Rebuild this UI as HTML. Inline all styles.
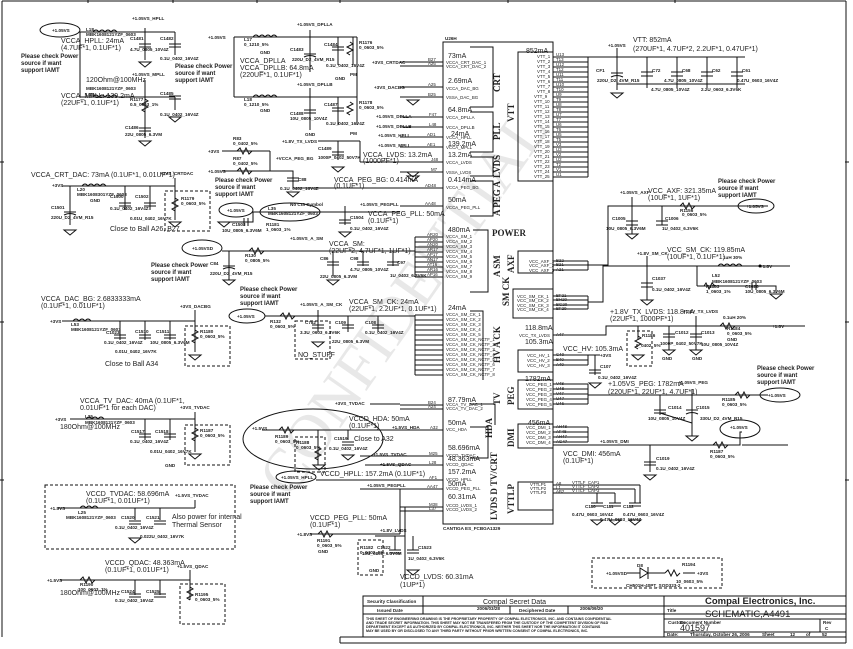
<!DOCTYPE html>
<html><head><meta charset="utf-8"><style>
html,body{margin:0;padding:0;background:#fff}
svg{display:block}
text{font-family:"Liberation Sans",sans-serif;fill:#222}
.m{font-size:7px}
.s{font-size:4.6px;font-weight:bold}
.p{font-size:4.4px}
.b{font-size:6px;font-weight:bold}
.g{font-family:"Liberation Serif",serif;font-weight:bold;font-size:9px}
line,polyline,path,rect,ellipse{stroke:#111;fill:none;stroke-width:1}
.d{stroke-dasharray:3,2}
</style></head><body>
<svg width="853" height="649" viewBox="0 0 853 649" xmlns="http://www.w3.org/2000/svg">
<!-- frame -->
<line x1="2" y1="1" x2="846" y2="1"/><line x1="2" y1="1" x2="2" y2="637"/><line x1="846" y1="1" x2="846" y2="643"/>
<line x1="88" y1="0" x2="88" y2="3"/><line x1="173" y1="0" x2="173" y2="3"/><line x1="257" y1="0" x2="257" y2="3"/><line x1="340" y1="0" x2="340" y2="3"/><line x1="508" y1="0" x2="508" y2="3"/><line x1="675" y1="0" x2="675" y2="3"/>
<line x1="0" y1="162" x2="4" y2="162"/><line x1="0" y1="322" x2="4" y2="322"/><line x1="0" y1="480" x2="4" y2="480"/><line x1="845" y1="162" x2="849" y2="162"/><line x1="845" y1="322" x2="849" y2="322"/><line x1="845" y1="480" x2="849" y2="480"/>
<!-- watermark -->
<text x="0" y="0" transform="translate(290,500) rotate(-55)" style="font-family:'Liberation Serif',serif;font-size:62px;fill:#e8e8e8">CONFIDENTIAL</text>

<!-- IC box -->
<rect x="443" y="42" width="110" height="482"/>
<text class="s" x="445" y="40">U26H</text>
<text class="s" x="443" y="530">CANTIGA ES_FCBGA1329</text>
<!-- group brackets -->
<polyline points="470,47 493,47 493,107 470,107"/>
<polyline points="470,112 493,112 493,152 470,152"/>
<polyline points="470,157 493,157 493,176 470,176"/>
<polyline points="470,181 493,181 493,216 470,216"/>
<polyline points="473,230 488,230 488,292 470,292"/>
<polyline points="470,311 483,311 483,380"/>
<polyline points="553,52 518,52 518,181 553,181"/>
<polyline points="553,251 518,251 518,273 553,273"/>
<polyline points="553,289 513,289 513,318 553,318"/>
<polyline points="553,350 518,350 518,372 553,372"/>
<polyline points="553,380 518,380 518,409 553,409"/>
<polyline points="553,424 518,424 518,448 553,448"/>
<polyline points="470,404 495,404 495,425"/>
<polyline points="470,427 488,427 488,458 470,458"/>
<polyline points="553,482 518,482 518,510 553,510"/>
<text class="g" transform="translate(500,92) rotate(-90)">CRT</text>
<text class="g" transform="translate(500,140) rotate(-90)">PLL</text>
<text class="g" transform="translate(500,178) rotate(-90)">LVDS</text>
<text class="g" transform="translate(500,216) rotate(-90)">A PEG A</text>
<text class="g" x="492" y="236">POWER</text>
<text class="g" transform="translate(500,277) rotate(-90)">A SM</text>
<text class="g" transform="translate(514,122) rotate(-90)">VTT</text>
<text class="g" transform="translate(514,273) rotate(-90)">AXF</text>
<text class="g" transform="translate(509,306) rotate(-90)">SM CK</text>
<text class="g" transform="translate(500,363) rotate(-90)">HV A CK</text>
<text class="g" transform="translate(514,405) rotate(-90)">PEG</text>
<text class="g" transform="translate(514,447) rotate(-90)">DMI</text>
<text class="g" transform="translate(500,405) rotate(-90)">TV</text>
<text class="g" transform="translate(492,438) rotate(-90)">HDA</text>
<text class="g" transform="translate(497,520) rotate(-90)">LVDS D TV/CRT</text>
<text class="g" transform="translate(514,514) rotate(-90)">VTTLP</text>
<!-- IC inner texts -->
<g class="m">
<text x="448" y="58">73mA</text><text x="448" y="83">2.69mA</text><text x="448" y="112">64.8mA</text><text x="451" y="136">24mA</text><text x="448" y="146">139.2mA</text><text x="448" y="157">13.2mA</text><text x="448" y="182">0.414mA</text><text x="448" y="202">50mA</text><text x="448" y="232">480mA</text><text x="448" y="310">24mA</text><text x="525" y="330">118.8mA</text><text x="525" y="344">105.3mA</text><text x="525" y="381">1782mA</text><text x="448" y="402">87.79mA</text><text x="448" y="425">50mA</text><text x="528" y="425">456mA</text><text x="448" y="450">58.696mA</text><text x="448" y="461">48.363mA</text><text x="448" y="474">157.2mA</text><text x="448" y="486">50mA</text><text x="448" y="499">60.31mA</text><text x="526" y="53">852mA</text>
</g>
<g class="p">
<text x="446" y="64">VCCA_CRT_DAC_1</text><text x="446" y="68">VCCA_CRT_DAC_2</text><text x="446" y="90">VCCA_DAC_BG</text><text x="446" y="99">VSSA_DAC_BG</text><text x="446" y="119">VCCA_DPLLA</text><text x="446" y="129">VCCA_DPLLB</text><text x="446" y="139">VCCA_HPLL</text><text x="446" y="149">VCCA_MPLL</text><text x="446" y="164">VCCA_LVDS</text><text x="446" y="174">VSSA_LVDS</text><text x="446" y="189">VCCA_PEG_BG</text><text x="446" y="209">VCCA_PEG_PLL</text>
<text x="446" y="238">VCCA_SM_1</text><text x="446" y="243">VCCA_SM_2</text><text x="446" y="248">VCCA_SM_3</text><text x="446" y="253">VCCA_SM_4</text><text x="446" y="258">VCCA_SM_5</text><text x="446" y="263">VCCA_SM_6</text><text x="446" y="268">VCCA_SM_7</text><text x="446" y="273">VCCA_SM_8</text><text x="446" y="278">VCCA_SM_9</text>
<text x="446" y="316">VCCA_SM_CK_1</text><text x="446" y="321">VCCA_SM_CK_2</text><text x="446" y="326">VCCA_SM_CK_3</text><text x="446" y="331">VCCA_SM_CK_4</text><text x="446" y="336">VCCA_SM_CK_5</text><text x="446" y="341">VCCA_SM_CK_NCTF_1</text><text x="446" y="346">VCCA_SM_CK_NCTF_2</text><text x="446" y="351">VCCA_SM_CK_NCTF_3</text><text x="446" y="356">VCCA_SM_CK_NCTF_4</text><text x="446" y="361">VCCA_SM_CK_NCTF_5</text><text x="446" y="366">VCCA_SM_CK_NCTF_6</text><text x="446" y="371">VCCA_SM_CK_NCTF_7</text><text x="446" y="376">VCCA_SM_CK_NCTF_8</text>
<text x="519" y="337">VCC_TX_LVDS</text>
<text x="446" y="406">VCCA_TV_DAC_1</text><text x="446" y="410">VCCA_TV_DAC_2</text><text x="446" y="431">VCC_HDA</text>
<text x="446" y="457">VCCD_TVDAC</text><text x="446" y="466">VCCD_QDAC</text><text x="446" y="481">VCCD_HPLL</text><text x="446" y="490">VCCD_PEG_PLL</text><text x="446" y="507">VCCD_LVDS_1</text><text x="446" y="511">VCCD_LVDS_2</text>
<text x="529" y="263">VCC_AXF_1</text><text x="529" y="267">VCC_AXF_2</text><text x="529" y="272">VCC_AXF_3</text>
<text x="517" y="298">VCC_SM_CK_1</text><text x="517" y="302">VCC_SM_CK_2</text><text x="517" y="307">VCC_SM_CK_3</text><text x="517" y="311">VCC_SM_CK_4</text>
<text x="527" y="357">VCC_HV_1</text><text x="527" y="362">VCC_HV_2</text><text x="527" y="367">VCC_HV_3</text>
<text x="526" y="386">VCC_PEG_1</text><text x="526" y="391">VCC_PEG_2</text><text x="526" y="396">VCC_PEG_3</text><text x="526" y="401">VCC_PEG_4</text><text x="526" y="406">VCC_PEG_5</text>
<text x="526" y="429">VCC_DMI_1</text><text x="526" y="434">VCC_DMI_2</text><text x="526" y="439">VCC_DMI_3</text><text x="526" y="444">VCC_DMI_4</text>
<text x="530" y="486">VTTLP1</text><text x="530" y="490">VTTLP2</text><text x="530" y="494">VTTLP3</text>
<text x="537" y="58">VTT_1</text><text x="537" y="63">VTT_2</text><text x="537" y="68">VTT_3</text><text x="537" y="73">VTT_4</text><text x="537" y="78">VTT_5</text><text x="537" y="83">VTT_6</text><text x="537" y="88">VTT_7</text><text x="537" y="93">VTT_8</text><text x="534" y="98">VTT_9</text><text x="534" y="103">VTT_10</text><text x="534" y="108">VTT_11</text><text x="534" y="113">VTT_12</text><text x="534" y="118">VTT_13</text><text x="534" y="123">VTT_14</text><text x="534" y="128">VTT_15</text><text x="534" y="133">VTT_16</text><text x="534" y="138">VTT_17</text><text x="534" y="143">VTT_18</text><text x="534" y="148">VTT_19</text><text x="534" y="153">VTT_20</text><text x="534" y="158">VTT_21</text><text x="534" y="163">VTT_22</text><text x="534" y="168">VTT_23</text><text x="534" y="173">VTT_24</text><text x="534" y="178">VTT_25</text>
</g>
<!-- VTT pins right -->
<g>
<line x1="553" y1="57" x2="588" y2="57"/><line x1="553" y1="62" x2="588" y2="62"/><line x1="553" y1="67" x2="588" y2="67"/><line x1="553" y1="72" x2="588" y2="72"/><line x1="553" y1="77" x2="588" y2="77"/><line x1="553" y1="82" x2="588" y2="82"/><line x1="553" y1="87" x2="588" y2="87"/><line x1="553" y1="92" x2="588" y2="92"/><line x1="553" y1="97" x2="588" y2="97"/><line x1="553" y1="102" x2="588" y2="102"/><line x1="553" y1="107" x2="588" y2="107"/><line x1="553" y1="112" x2="588" y2="112"/><line x1="553" y1="117" x2="588" y2="117"/><line x1="553" y1="122" x2="588" y2="122"/><line x1="553" y1="127" x2="588" y2="127"/><line x1="553" y1="132" x2="588" y2="132"/><line x1="553" y1="137" x2="588" y2="137"/><line x1="553" y1="142" x2="588" y2="142"/><line x1="553" y1="147" x2="588" y2="147"/><line x1="553" y1="152" x2="588" y2="152"/><line x1="553" y1="157" x2="588" y2="157"/><line x1="553" y1="162" x2="588" y2="162"/><line x1="553" y1="167" x2="588" y2="167"/><line x1="553" y1="172" x2="588" y2="172"/><line x1="553" y1="177" x2="588" y2="177"/>
<line x1="588" y1="57" x2="588" y2="177"/>
</g>
<!-- left pins -->
<g>
<line x1="400" y1="62" x2="443" y2="62"/><line x1="400" y1="66" x2="443" y2="66"/><line x1="400" y1="87" x2="443" y2="87"/><line x1="400" y1="97" x2="443" y2="97"/><line x1="400" y1="117" x2="443" y2="117"/><line x1="400" y1="127" x2="443" y2="127"/><line x1="400" y1="137" x2="443" y2="137"/><line x1="400" y1="147" x2="443" y2="147"/><line x1="400" y1="162" x2="443" y2="162"/><line x1="400" y1="172" x2="443" y2="172"/><line x1="400" y1="188" x2="443" y2="188"/><line x1="400" y1="206" x2="443" y2="206"/>
<line x1="415" y1="237" x2="443" y2="237"/><line x1="415" y1="242" x2="443" y2="242"/><line x1="415" y1="247" x2="443" y2="247"/><line x1="415" y1="252" x2="443" y2="252"/><line x1="415" y1="257" x2="443" y2="257"/><line x1="415" y1="262" x2="443" y2="262"/><line x1="415" y1="267" x2="443" y2="267"/><line x1="415" y1="272" x2="443" y2="272"/><line x1="415" y1="277" x2="443" y2="277"/><line x1="415" y1="237" x2="415" y2="277"/>
<line x1="415" y1="315" x2="443" y2="315"/><line x1="415" y1="320" x2="443" y2="320"/><line x1="415" y1="325" x2="443" y2="325"/><line x1="415" y1="330" x2="443" y2="330"/><line x1="415" y1="335" x2="443" y2="335"/><line x1="415" y1="340" x2="443" y2="340"/><line x1="415" y1="345" x2="443" y2="345"/><line x1="415" y1="350" x2="443" y2="350"/><line x1="415" y1="355" x2="443" y2="355"/><line x1="415" y1="360" x2="443" y2="360"/><line x1="415" y1="365" x2="443" y2="365"/><line x1="415" y1="370" x2="443" y2="370"/><line x1="415" y1="375" x2="443" y2="375"/><line x1="415" y1="315" x2="415" y2="375"/>
<line x1="400" y1="405" x2="443" y2="405"/><line x1="400" y1="409" x2="443" y2="409"/><line x1="360" y1="430" x2="443" y2="430"/><line x1="400" y1="456" x2="443" y2="456"/><line x1="400" y1="465" x2="443" y2="465"/><line x1="400" y1="480" x2="443" y2="480"/><line x1="400" y1="489" x2="443" y2="489"/><line x1="400" y1="507" x2="443" y2="507"/><line x1="400" y1="511" x2="443" y2="511"/>
</g>
<g class="p">
<text x="428" y="61">B27</text><text x="428" y="65">A26</text><text x="428" y="86">A25</text><text x="428" y="96">B25</text><text x="429" y="116">F47</text><text x="429" y="126">L48</text><text x="427" y="136">AD1</text><text x="427" y="146">AE1</text><text x="431" y="161">J48</text><text x="431" y="171">M7</text><text x="425" y="187">AD48</text><text x="425" y="205">AA48</text>
<text x="427" y="236">AR20</text><text x="427" y="241">AP20</text><text x="427" y="246">AN20</text><text x="427" y="251">AR17</text><text x="427" y="256">AP17</text><text x="427" y="261">AN17</text><text x="427" y="266">AT16</text><text x="427" y="271">AR16</text><text x="427" y="276">AP16</text>
<text x="428" y="404">B24</text><text x="428" y="408">A24</text><text x="430" y="429">A32</text><text x="429" y="455">M25</text><text x="429" y="464">L28</text><text x="429" y="479">AF1</text><text x="427" y="488">AA47</text><text x="429" y="506">M38</text><text x="429" y="510">L37</text>
<text x="556" y="56">U13</text><text x="556" y="61">T13</text><text x="556" y="66">U12</text><text x="556" y="71">T12</text><text x="556" y="76">U11</text><text x="556" y="81">T11</text><text x="556" y="86">U10</text><text x="556" y="91">T10</text><text x="556" y="96">U9</text><text x="556" y="101">T9</text><text x="556" y="106">U8</text><text x="556" y="111">T8</text><text x="556" y="116">U7</text><text x="556" y="121">T7</text><text x="556" y="126">U6</text><text x="556" y="131">T6</text><text x="556" y="136">U5</text><text x="556" y="141">T5</text><text x="556" y="146">V3</text><text x="556" y="151">U3</text><text x="556" y="156">V2</text><text x="556" y="161">U2</text><text x="556" y="166">T2</text><text x="556" y="171">V1</text><text x="556" y="176">U1</text>
<text x="556" y="262">B22</text><text x="556" y="266">B21</text><text x="556" y="271">A21</text><text x="556" y="297">BF21</text><text x="556" y="301">BH20</text><text x="556" y="306">BG20</text><text x="556" y="310">BF20</text><text x="556" y="336">A47</text><text x="556" y="356">C40</text><text x="556" y="361">B40</text><text x="556" y="366">A40</text>
<text x="556" y="385">V48</text><text x="556" y="390">U48</text><text x="556" y="395">V47</text><text x="556" y="400">U47</text><text x="556" y="405">U46</text><text x="556" y="428">AH48</text><text x="556" y="433">AF48</text><text x="556" y="438">AH47</text><text x="556" y="443">AG47</text><text x="556" y="485">A8</text><text x="556" y="489">L1</text><text x="556" y="493">AB2</text>
</g>
<!-- right side pin wires -->
<line x1="553" y1="261" x2="588" y2="261"/><line x1="553" y1="265" x2="588" y2="265"/><line x1="553" y1="270" x2="588" y2="270"/><line x1="588" y1="261" x2="588" y2="270"/>
<polyline points="588,265 608,265 608,206 660,206"/>
<line x1="553" y1="296" x2="588" y2="296"/><line x1="553" y1="300" x2="588" y2="300"/><line x1="553" y1="305" x2="588" y2="305"/><line x1="553" y1="309" x2="588" y2="309"/><line x1="588" y1="296" x2="588" y2="309"/>
<polyline points="588,302 603,302 603,266 790,266"/>
<polyline points="553,335 606,335 606,326 805,326"/>
<line x1="553" y1="355" x2="588" y2="355"/><line x1="553" y1="360" x2="588" y2="360"/><line x1="553" y1="365" x2="588" y2="365"/><line x1="588" y1="355" x2="588" y2="365"/><line x1="588" y1="355" x2="600" y2="355"/>
<line x1="553" y1="384" x2="588" y2="384"/><line x1="553" y1="389" x2="588" y2="389"/><line x1="553" y1="394" x2="588" y2="394"/><line x1="553" y1="399" x2="588" y2="399"/><line x1="553" y1="404" x2="588" y2="404"/><line x1="588" y1="384" x2="588" y2="404"/>
<line x1="588" y1="395" x2="768" y2="395"/>
<line x1="553" y1="427" x2="588" y2="427"/><line x1="553" y1="432" x2="588" y2="432"/><line x1="553" y1="437" x2="588" y2="437"/><line x1="553" y1="442" x2="588" y2="442"/><line x1="588" y1="427" x2="588" y2="442"/>
<polyline points="553,445 740,445 740,432 742,432"/><polyline points="788,445 742,445"/><polyline points="740,445 740,445"/>
<line x1="553" y1="485" x2="640" y2="485"/><line x1="553" y1="489" x2="635" y2="489"/><line x1="553" y1="493" x2="615" y2="493"/>
<g class="p"><text x="572" y="484">VTTLF_CAP1</text><text x="572" y="488">VTTLF_CAP2</text><text x="572" y="492">VTTLF_CAP3</text></g>

<!-- VTT caps -->
<line x1="588" y1="57" x2="745" y2="57"/><line x1="617" y1="48" x2="617" y2="57"/>
<line x1="617" y1="57" x2="617" y2="90"/><line x1="647" y1="57" x2="647" y2="88"/><line x1="677" y1="57" x2="677" y2="88"/><line x1="707" y1="57" x2="707" y2="88"/><line x1="737" y1="57" x2="737" y2="88"/>
<line x1="617" y1="84" x2="745" y2="84"/>
<path d="M611,73h12M611,77q6,-3 12,0M641,72h12M641,76h12M671,72h12M671,76h12M701,72h12M701,76h12M731,72h12M731,76h12" stroke-width="1.3"/>
<path d="M611,93h12l-6,5z"/>
<text class="m" x="633" y="42">VTT: 852mA</text><text class="m" x="633" y="51">(270UF*1, 4.7UF*2, 2.2UF*1, 0.47UF*1)</text>
<g class="s"><text x="608" y="47">+1.05VS</text><text x="596" y="72">CF1</text><text x="652" y="72">C72</text><text x="682" y="72">C68</text><text x="712" y="72">C62</text><text x="742" y="72">C61</text><text x="597" y="82">220U_D2_4VM_R15</text><text x="651" y="91">4.7U_0805_10V4Z</text><text x="664" y="82">4.7U_0805_10V4Z</text><text x="701" y="91">2.2U_0603_6.3V6K</text><text x="737" y="82">0.47U_0603_16V4Z</text></g>

<!-- AXF region -->
<text class="m" x="648" y="193">VCC_AXF: 321.35mA</text><text class="m" x="648" y="200">(10UF*1, 1UF*1)</text>
<text class="s" x="620" y="194">+1.05VS_AXF</text>
<line x1="632" y1="197" x2="632" y2="225"/><line x1="662" y1="206" x2="662" y2="225"/>
<line x1="608" y1="206" x2="768" y2="206"/>
<path d="M626,221h12M626,225h12M656,221h12M656,225h12M626,234h12l-6,5z" stroke-width="1.3"/>
<line x1="632" y1="225" x2="632" y2="234"/>
<g class="s"><text x="612" y="220">C1005</text><text x="606" y="230">10U_0805_6.3V6M</text><text x="665" y="220">C1006</text><text x="662" y="230">1U_0402_6.3V6K</text><text x="680" y="212">R1156</text><text x="682" y="216">0_0603_5%</text></g>
<path d="M680,206 l3,-3 3,6 3,-6 3,6 3,-3"/>
<text class="b" x="718" y="183">Please check Power</text><text class="b" x="718" y="190">source if want</text><text class="b" x="718" y="197">support IAMT</text>
<ellipse cx="756" cy="206" rx="18" ry="7" stroke-width="1.3"/><text class="s" x="746" y="208">+1.05VS</text>

<!-- SM CK right -->
<text class="m" x="667" y="252">VCC_SM_CK: 119.85mA</text><text class="m" x="667" y="259">(10UF*1, 0.1UF*1)</text>
<text class="s" x="637" y="255">+1.8V_SM_CK</text>
<line x1="647" y1="256" x2="647" y2="300"/><path d="M641,283h12M641,287h12M641,300h12l-6,5z" stroke-width="1.3"/>
<g class="s"><text x="652" y="280">C1037</text><text x="652" y="291">0.1U_0402_16V4Z</text><text x="723" y="259">1uH 30%</text><text x="712" y="277">L52</text><text x="712" y="283">MBK1608121YZF_0603</text><text x="706" y="288">R1183</text><text x="706" y="293">1_0603_1%</text><text x="745" y="288">C1026</text><text x="745" y="293">10U_0805_6.3V6M</text></g>
<path d="M718,266 q3,-4 6,0 q3,-4 6,0 q3,-4 6,0 q3,-4 6,0"/>
<line x1="697" y1="266" x2="697" y2="286"/><polyline points="697,286 740,286 740,286 776,286 776,293"/>
<path d="M704,286 l2,-3 3,6 3,-6 3,3M752,282v8M756,282v8"/>
<text class="s" x="760" y="268">+1.8V</text><circle cx="760" cy="266" r="1.5"/>
<path d="M770,294h12l-6,5z"/>

<!-- TX LVDS right -->
<text class="m" x="610" y="314">+1.8V_TX_LVDS: 118.8mA</text><text class="m" x="610" y="321">(22UF*1, 1000PF*1)</text>
<text class="s" x="683" y="313">+1.8V_TX_LVDS</text><text class="s" x="723" y="319">0.1uH 20%</text>
<line x1="696" y1="316" x2="696" y2="340"/><line x1="669" y1="326" x2="669" y2="340"/><line x1="638" y1="326" x2="638" y2="340"/>
<path d="M663,334h12M663,337h12M690,334h12M690,337h12M663,350h12l-6,5zM690,350h12l-6,5z" stroke-width="1.3"/>
<line x1="669" y1="337" x2="669" y2="350"/><line x1="696" y1="337" x2="696" y2="350"/>
<rect class="d" x="627" y="331" width="25" height="35"/>
<path d="M638,336 l3,2 -6,3 6,3 -6,3 3,2M632,355h12l-6,5z"/>
<path d="M720,326 l3,-3 3,6 3,-6 3,6 3,-3"/>
<g class="s"><text x="642" y="337">R1186</text><text x="636" y="347">0_0402_5%</text><text x="675" y="334">C1012</text><text x="701" y="334">C1013</text><text x="660" y="345">1000P_0402_50V7K</text><text x="701" y="346">10U_0805_10V4Z</text><text x="727" y="330">R1184</text><text x="727" y="335">0_0603_5%</text><text x="772" y="328">+1.8V</text><text x="662" y="360">GND</text><text x="692" y="360">GND</text><text x="727" y="341">GND</text></g>

<text class="m" x="563" y="351">VCC_HV: 105.3mA</text><text class="s" x="600" y="357">+3VS</text>
<line x1="595" y1="355" x2="595" y2="375"/><path d="M589,370h12M589,373h12M589,383h12l-6,5z" stroke-width="1.3"/>
<g class="s"><text x="600" y="368">C107</text><text x="598" y="379">0.1U_0402_16V4Z</text></g>

<text class="m" x="608" y="386">+1.05VS_PEG: 1782mA</text><text class="m" x="608" y="394">(220UF*1, 22UF*1, 4.7UF*1)</text><text class="s" x="678" y="384">+1.05VS_PEG</text>
<line x1="660" y1="395" x2="660" y2="415"/><line x1="692" y1="389" x2="692" y2="415"/>
<path d="M654,410h12M654,413h12M686,410h12M686,414q6,-3 12,0M686,436h12l-6,5z" stroke-width="1.3"/>
<line x1="660" y1="413" x2="692" y2="423"/><line x1="692" y1="414" x2="692" y2="436"/>
<g class="s"><text x="668" y="409">C1014</text><text x="696" y="409">C1015</text><text x="648" y="420">10U_0805_10V4Z</text><text x="700" y="420">330U_D2_4VM_R15</text><text x="722" y="401">R1185</text><text x="722" y="406">0_0603_5%</text></g>
<path d="M735,395 l3,-3 3,6 3,-6 3,6 3,-3"/>
<text class="b" x="757" y="370">Please check Power</text><text class="b" x="757" y="377">source if want</text><text class="b" x="757" y="384">support IAMT</text>
<ellipse cx="780" cy="395" rx="20" ry="7" stroke-width="1.3"/><text class="s" x="768" y="397">+1.05VS</text>
<ellipse cx="740" cy="429" rx="20" ry="9" stroke-width="1.3"/><text class="s" x="730" y="429">+1.05VS</text>
<polyline points="740,434 740,445 695,445"/>
<path d="M713,445 l3,-3 3,6 3,-6 3,6 3,-3"/>
<text class="s" x="600" y="443">+1.05VS_DMI</text><text class="s" x="710" y="453">R1187</text><text class="s" x="710" y="458">0_0603_5%</text>
<text class="m" x="563" y="456">VCC_DMI: 456mA</text><text class="m" x="563" y="463">(0.1UF*1)</text>
<line x1="650" y1="445" x2="650" y2="472"/><path d="M644,462h12M644,465h12M644,475h12l-6,5z" stroke-width="1.3"/>
<g class="s"><text x="656" y="460">C1019</text><text x="656" y="470">0.1U_0402_16V4Z</text></g>
<!-- VTTLF caps -->
<line x1="597" y1="493" x2="597" y2="503"/><line x1="615" y1="493" x2="615" y2="503"/><line x1="635" y1="489" x2="635" y2="503"/><line x1="640" y1="485" x2="640" y2="503"/>
<path d="M591,503h12M591,506h12M609,503h12M609,506h12M629,503h12M629,506h12M591,520h12l-6,5zM609,520h12l-6,5zM629,520h12l-6,5z" stroke-width="1.3"/>
<g class="s"><text x="585" y="508">C110</text><text x="603" y="508">C111</text><text x="623" y="508">C112</text><text x="572" y="516">0.47U_0603_16V4Z</text><text x="600" y="521">0.47U_0603_16V4Z</text><text x="623" y="516">0.47U_0603_16V4Z</text></g>

<!-- Top left HPLL / MPLL -->
<ellipse cx="60" cy="30" rx="20" ry="7" stroke-width="1.3"/><text class="s" x="52" y="32">+1.05VS</text>
<line x1="80" y1="32" x2="175" y2="32"/><line x1="80" y1="32" x2="80" y2="97"/><line x1="80" y1="97" x2="175" y2="97"/>
<path d="M93,32 q3,-4 6,0 q3,-4 6,0 q3,-4 6,0 q3,-4 6,0M93,97 q3,-4 6,0 q3,-4 6,0 q3,-4 6,0 q3,-4 6,0"/>
<line x1="145" y1="28" x2="145" y2="60"/><line x1="175" y1="32" x2="175" y2="55"/>
<path d="M139,44h12M139,47h12M169,44h12M169,47h12M139,62h12l-6,5z" stroke-width="1.3"/>
<line x1="145" y1="80" x2="145" y2="138"/><line x1="175" y1="97" x2="175" y2="110"/>
<path d="M169,96h12M169,99h12M169,117h12l-6,5zM139,128h12M139,131h12M139,141h12l-6,5z" stroke-width="1.3"/>
<path d="M145,99 l3,2 -6,3 6,3 -6,3 3,2"/>
<g class="s"><text x="132" y="20">+1.05VS_HPLL</text><text x="86" y="31">L18</text><text x="86" y="36">MBK1608121YZF_0603</text><text x="130" y="40">C1481</text><text x="160" y="40">C1482</text><text x="130" y="51">4.7U_0805_10V4Z</text><text x="160" y="60">0.1U_0402_16V4Z</text><text x="132" y="76">+1.05VS_MPLL</text><text x="86" y="96">L19</text><text x="86" y="90">MBK1608121YZF_0603</text><text x="130" y="101">R1177</text><text x="130" y="106">0.5_0603_1%</text><text x="160" y="95">C1485</text><text x="160" y="116">0.1U_0402_16V4Z</text><text x="125" y="129">C1486</text><text x="125" y="136">22U_0805_6.3VM</text></g>
<text class="m" x="61" y="43">VCCA_HPLL: 24mA</text><text class="m" x="61" y="50">(4.7UF*1, 0.1UF*1)</text>
<text class="b" x="21" y="58">Please check Power</text><text class="b" x="21" y="65">source if want</text><text class="b" x="21" y="72">support IAMT</text>
<text class="m" x="86" y="82">120Ohm@100MHz</text>
<text class="m" x="61" y="98">VCCA_MPLL: 139.2mA</text><text class="m" x="61" y="105">(22UF*1, 0.1UF*1)</text>
<text class="b" x="175" y="68">Please check Power</text><text class="b" x="175" y="75">source if want</text><text class="b" x="175" y="82">support IAMT</text>

<!-- DPLL -->
<text class="s" x="208" y="39">+1.05VS</text>
<line x1="234" y1="37" x2="357" y2="37"/><line x1="234" y1="37" x2="234" y2="97"/><line x1="234" y1="97" x2="357" y2="97"/>
<path d="M253,37 q3,-4 6,0 q3,-4 6,0 q3,-4 6,0 q3,-4 6,0M253,97 q3,-4 6,0 q3,-4 6,0 q3,-4 6,0 q3,-4 6,0"/>
<line x1="310" y1="30" x2="310" y2="72"/><line x1="338" y1="37" x2="338" y2="65"/><line x1="353" y1="37" x2="353" y2="65"/><line x1="357" y1="37" x2="357" y2="97"/>
<path d="M304,54h12M304,57q6,-3 12,0M332,47h12M332,50h12M350,42 l3,2 -6,3 6,3 -6,3 3,2" stroke-width="1.2"/>
<line x1="310" y1="88" x2="310" y2="130"/><line x1="338" y1="97" x2="338" y2="125"/><line x1="357" y1="97" x2="357" y2="125"/>
<path d="M304,110h12M304,113h12M332,108h12M332,111h12M350,102 l3,2 -6,3 6,3 -6,3 3,2" stroke-width="1.2"/>
<g class="s"><text x="297" y="26">+1.05VS_DPLLA</text><text x="297" y="86">+1.05VS_DPLLB</text><text x="244" y="41">L17</text><text x="244" y="46">0_1210_5%</text><text x="244" y="101">L18</text><text x="244" y="106">0_1210_5%</text><text x="290" y="51">C1483</text><text x="292" y="61">220U_D2_4VM_R15</text><text x="324" y="46">C1484</text><text x="326" y="67">0.1U_0402_16V4Z</text><text x="359" y="44">R1176</text><text x="359" y="49">0_0603_5%</text><text x="290" y="115">C1488</text><text x="290" y="120">10U_0805_10V4Z</text><text x="324" y="106">C1487</text><text x="326" y="125">0.1U_0402_16V4Z</text><text x="359" y="104">R1178</text><text x="359" y="109">0_0603_5%</text><text x="260" y="54">GND</text><text x="260" y="112">GND</text><text x="335" y="80">GND</text><text x="350" y="76">PM</text><text x="350" y="135">PM</text><text x="305" y="136">GND</text></g>
<text class="m" x="240" y="63">VCCA_DPLLA</text><text class="m" x="240" y="70">VCCA_DPLLB: 64.8mA</text><text class="m" x="240" y="77">(220UF*1, 0.1UF*1)</text>
<g class="s"><text x="372" y="64">+3VS_CRTDAC</text><text x="374" y="89">+3VS_DACBG</text><text x="376" y="118">+1.05VS_DPLLA</text><text x="376" y="128">+1.05VS_DPLLB</text><text x="378" y="137">+1.05VS_HPLL</text><text x="378" y="147">+1.05VS_MPLL</text><text x="282" y="143">+1.8V_TX_LVDS</text><text x="276" y="160">+VCCA_PEG_BG</text><text x="360" y="206">+1.05VS_PEGPLL</text></g>
<path d="M407,100h12l-6,5zM407,172h12l-6,5z"/>
<line x1="318" y1="141" x2="360" y2="141"/><line x1="360" y1="141" x2="360" y2="162"/><line x1="360" y1="162" x2="400" y2="162"/>
<line x1="338" y1="141" x2="338" y2="160"/><path d="M332,152h12M332,155h12M332,167h12l-6,5z" stroke-width="1.3"/>
<g class="s"><text x="318" y="150">C1489</text><text x="318" y="159">1000P_0402_50V7K</text></g>
<text class="m" x="363" y="157">VCCA_LVDS: 13.2mA</text><text class="m" x="363" y="163">(1000PF*1)</text>
<!-- R83 R87 -->
<text class="s" x="208" y="153">+3VS</text><text class="s" x="208" y="173">+1.05VS</text>
<line x1="222" y1="151" x2="270" y2="151"/><line x1="222" y1="171" x2="270" y2="171"/><polyline points="270,151 270,171 293,171 293,188 400,188"/>
<path d="M237,151 l3,-3 3,6 3,-6 3,6 3,-3M237,171 l3,-3 3,6 3,-6 3,6 3,-3"/>
<g class="s"><text x="233" y="140">R83</text><text x="233" y="145">0_0402_5%</text><text x="233" y="160">R87</text><text x="233" y="165">0_0402_5%</text><text x="298" y="181">C88</text><text x="280" y="190">0.1U_0402_16V4Z</text></g>
<path d="M287,178h12M287,181h12M287,192h12l-6,5z" stroke-width="1.3"/>
<text class="b" x="215" y="182">Please check Power</text><text class="b" x="215" y="189">source if want</text><text class="b" x="215" y="196">support IAMT</text>
<text class="m" x="334" y="182">VCCA_PEG_BG: 0.414mA</text><text class="m" x="334" y="188">(0.1UF*1)</text>
<path d="M407,176h12l-6,5z"/>

<!-- CRT DAC -->
<text class="m" x="31" y="177">VCCA_CRT_DAC: 73mA (0.1UF*1, 0.01UF*1)</text><text class="s" x="160" y="175">+3VS_CRTDAC</text>
<line x1="62" y1="186" x2="175" y2="186"/><line x1="70" y1="186" x2="70" y2="225"/><line x1="125" y1="186" x2="125" y2="210"/><line x1="150" y1="186" x2="150" y2="210"/><line x1="175" y1="178" x2="175" y2="220"/>
<path d="M82,186 q3,-4 6,0 q3,-4 6,0 q3,-4 6,0 q3,-4 6,0M64,212h12M64,215q6,-3 12,0M119,203h12M119,206h12M144,203h12M144,206h12M64,230h12l-6,5zM169,222h12l-6,5z" stroke-width="1.2"/>
<path d="M175,198 l3,2 -6,3 6,3 -6,3 3,2"/>
<rect class="d" x="165" y="191" width="45" height="40"/>
<g class="s"><text x="52" y="187">+3VS</text><text x="77" y="191">L20</text><text x="77" y="196">MBK1608301YZF_0603</text><text x="90" y="202">GND</text><text x="110" y="198">C1500</text><text x="135" y="198">C1502</text><text x="110" y="210">0.1U_0402_16V4Z</text><text x="130" y="220">0.01U_0402_16V7K</text><text x="51" y="209">C1501</text><text x="51" y="219">220U_D2_4VM_R15</text><text x="181" y="200">R1179</text><text x="181" y="205">0_0603_5%</text></g>
<text class="m" x="110" y="231">Close to Ball A26, B27</text>
<!-- PEG PLL -->
<ellipse cx="236" cy="210" rx="17" ry="7" stroke-width="1.3"/><text class="s" x="227" y="212">+1.05VS</text>
<ellipse cx="290" cy="212" rx="30" ry="9" stroke-width="1.3"/>
<text class="s" x="290" y="206">No CIS Symbol</text><text class="s" x="268" y="210">L35</text><text class="s" x="268" y="215">MBK1608121YZF_0603</text>
<line x1="253" y1="212" x2="400" y2="212"/><polyline points="253,212 253,222 220,222"/><path d="M218,222h12l-6,5zM244,218v8M248,218v8"/>
<line x1="345" y1="206" x2="345" y2="225"/><path d="M339,220h12M339,223h12M339,232h12l-6,5z" stroke-width="1.3"/>
<g class="s"><text x="232" y="226">C1503</text><text x="222" y="232">10U_0805_6.3V6M</text><text x="266" y="226">R1181</text><text x="266" y="231">1_0603_1%</text><text x="350" y="219">C1504</text><text x="350" y="230">0.1U_0402_16V4Z</text></g>
<text class="m" x="368" y="216">VCCA_PEG_PLL: 50mA</text><text class="m" x="368" y="223">(0.1UF*1)</text>
<!-- VCCA SM -->
<ellipse cx="202" cy="248" rx="20" ry="8" stroke-width="1.3"/><text class="s" x="192" y="250">+1.05VSD</text>
<line x1="222" y1="251" x2="415" y2="251"/><line x1="229" y1="251" x2="229" y2="280"/><path d="M223,266h12M223,269q6,-3 12,0M223,280h12l-6,5z" stroke-width="1.2"/>
<path d="M249,251 l3,-3 3,6 3,-6 3,6 3,-3"/>
<line x1="333" y1="251" x2="333" y2="276"/><line x1="363" y1="251" x2="363" y2="266"/><line x1="393" y1="251" x2="393" y2="266"/>
<path d="M327,262h12M327,265h12M357,262h12M357,265h12M387,262h12M387,265h12M327,280h12l-6,5z" stroke-width="1.2"/>
<g class="s"><text x="290" y="240">+1.05VS_A_SM</text><text x="245" y="257">R130</text><text x="245" y="262">0_0805_5%</text><text x="210" y="265">C84</text><text x="210" y="275">220U_D2_4VM_R15</text><text x="320" y="260">C86</text><text x="350" y="260">C98</text><text x="350" y="271">4.7U_0805_10V4Z</text><text x="397" y="264">C97</text><text x="320" y="278">22U_0805_6.3VM</text><text x="390" y="277">1U_0402_6.3V6K</text></g>
<text class="m" x="329" y="246">VCCA_SM:</text><text class="m" x="329" y="253">(22UF*2, 4.7UF*1, 1UF*1)</text>
<text class="b" x="151" y="267">Please check Power</text><text class="b" x="151" y="274">source if want</text><text class="b" x="151" y="281">support IAMT</text>
<text class="b" x="240" y="291">Please check Power</text><text class="b" x="240" y="298">source if want</text><text class="b" x="240" y="305">support IAMT</text>
<!-- SM CK -->
<ellipse cx="247" cy="316" rx="18" ry="7" stroke-width="1.3"/><text class="s" x="237" y="318">+1.05VS</text>
<line x1="265" y1="316" x2="415" y2="316"/><path d="M280,316 l3,-3 3,6 3,-6 3,6 3,-3"/>
<line x1="318" y1="310" x2="318" y2="332"/><line x1="348" y1="316" x2="348" y2="332"/><line x1="378" y1="316" x2="378" y2="332"/>
<path d="M312,325h12M312,328h12M342,325h12M342,328h12M372,325h12M372,328h12M312,342h12l-6,5z" stroke-width="1.2"/>
<rect class="d" x="295" y="321" width="35" height="38"/>
<g class="s"><text x="300" y="306">+1.05VS_A_SM_CK</text><text x="270" y="323">R132</text><text x="270" y="328">0_0603_5%</text><text x="305" y="324">C782</text><text x="300" y="334">3.3U_0603_6.3V6K</text><text x="335" y="324">C109</text><text x="365" y="324">C108</text><text x="365" y="334">0.1U_0402_16V4Z</text><text x="332" y="343">22U_0805_6.3VM</text></g>
<text class="m" x="298" y="357">NO_STUFF</text>
<text class="m" x="349" y="304">VCCA_SM_CK: 24mA</text><text class="m" x="349" y="311">(22UF*1, 2.2UF*1, 0.1UF*1)</text>
<!-- DAC BG -->
<text class="m" x="41" y="301">VCCA_DAC_BG: 2.6833333mA</text><text class="m" x="41" y="308">(0.1UF*1, 0.01UF*1)</text><text class="s" x="180" y="308">+3VS_DACBG</text>
<line x1="62" y1="321" x2="195" y2="321"/><line x1="120" y1="321" x2="120" y2="340"/><line x1="145" y1="321" x2="145" y2="340"/><line x1="170" y1="321" x2="170" y2="340"/><line x1="195" y1="310" x2="195" y2="352"/>
<path d="M73,321 q3,-4 6,0 q3,-4 6,0 q3,-4 6,0M114,335h12M114,338h12M139,335h12M139,338h12M164,335h12M164,338h12M189,355h12l-6,5z M195,330 l3,2 -6,3 6,3 -6,3 3,2" stroke-width="1.2"/>
<rect class="d" x="185" y="326" width="45" height="40"/>
<g class="s"><text x="50" y="323">+3VS</text><text x="71" y="326">L53</text><text x="71" y="331">MBK1608121YZF_0603</text><text x="106" y="334">C1023</text><text x="135" y="333">C1510</text><text x="156" y="333">C1511</text><text x="104" y="344">0.1U_0402_16V4Z</text><text x="150" y="344">10U_0805_6.3V6M</text><text x="115" y="353">0.01U_0402_16V7K</text><text x="200" y="333">R1180</text><text x="200" y="338">0_0603_5%</text></g>
<text class="m" x="105" y="366">Close to Ball A34</text>
<!-- TV DAC -->
<text class="m" x="80" y="403">VCCA_TV_DAC: 40mA (0.1UF*1,</text><text class="m" x="80" y="410">0.01UF*1 for each DAC)</text><text class="s" x="180" y="409">+3VS_TVDAC</text>
<line x1="70" y1="419" x2="195" y2="419"/><line x1="145" y1="419" x2="145" y2="440"/><line x1="170" y1="419" x2="170" y2="440"/><line x1="195" y1="412" x2="195" y2="452"/>
<path d="M86,419 q3,-4 6,0 q3,-4 6,0 q3,-4 6,0M139,434h12M139,437h12M164,434h12M164,437h12M189,454h12l-6,5z M195,428 l3,2 -6,3 6,3 -6,3 3,2" stroke-width="1.2"/>
<rect class="d" x="185" y="425" width="45" height="40"/>
<g class="s"><text x="55" y="421">+3VS</text><text x="85" y="418">L25</text><text x="85" y="424">MBK1608121YZF_0603</text><text x="131" y="433">C1517</text><text x="155" y="433">C1518</text><text x="130" y="443">0.1U_0402_16V4Z</text><text x="150" y="453">0.01U_0402_16V7K</text><text x="200" y="432">R1187</text><text x="200" y="437">0_0603_5%</text><text x="165" y="467">GND</text></g>
<text class="m" x="60" y="429">180Ohm@100MHz</text>
<!-- HDA -->
<ellipse cx="313" cy="439" rx="70" ry="30" stroke-width="1.3"/>
<text class="s" x="335" y="405">+3VS_TVDAC</text><line x1="370" y1="404" x2="400" y2="404"/>
<text class="s" x="252" y="430">+1.5VS</text><line x1="262" y1="430" x2="360" y2="430"/>
<path d="M279,430 l3,-3 3,6 3,-6 3,6 3,-3"/>
<line x1="318" y1="430" x2="318" y2="465"/><line x1="348" y1="430" x2="348" y2="440"/>
<path d="M342,442h12M342,445h12M342,455h12l-6,5zM313,465h12l-6,5z M318,447 l3,2 -6,3 6,3 -6,3 3,2" stroke-width="1.2"/>
<rect class="d" x="295" y="437" width="30" height="35"/>
<g class="s"><text x="275" y="438">R1189</text><text x="275" y="443">0_0603_5%</text><text x="296" y="444">R1188</text><text x="296" y="449">0_0603_5%</text><text x="334" y="440">C1519</text><text x="329" y="450">0.1U_0402_16V4Z</text><text x="392" y="429">+1.5VS_HDA</text><text x="373" y="456">+1.5VS_TVDAC</text><text x="380" y="466">+1.5VS_QDAC</text><text x="367" y="487">+1.05VS_PEGPLL</text></g>
<text class="m" x="349" y="421">VCCD_HDA: 50mA</text><text class="m" x="349" y="428">(0.1UF*1)</text><text class="m" x="354" y="441">Close to A32</text>
<line x1="360" y1="456" x2="400" y2="456"/><line x1="365" y1="465" x2="400" y2="465"/><line x1="360" y1="489" x2="400" y2="489"/>
<ellipse cx="296" cy="477" rx="20" ry="6" stroke-width="1.3"/><text class="s" x="281" y="479">+1.05VS_HPLL</text>
<line x1="316" y1="480" x2="400" y2="480"/><text class="m" x="320" y="476">VCCD_HPLL: 157.2mA (0.1UF*1)</text>
<text class="b" x="250" y="489">Please check Power</text><text class="b" x="250" y="496">source if want</text><text class="b" x="250" y="503">support IAMT</text>
<!-- TVDAC dashed box -->
<rect class="d" x="45" y="485" width="190" height="64"/>
<text class="m" x="86" y="496">VCCD_TVDAC: 58.696mA</text><text class="m" x="86" y="503">(0.1UF*1, 0.01UF*1)</text><text class="s" x="175" y="497">+1.5VS_TVDAC</text>
<line x1="58" y1="508" x2="195" y2="508"/><line x1="135" y1="508" x2="135" y2="520"/><line x1="160" y1="508" x2="160" y2="520"/><line x1="195" y1="500" x2="195" y2="508"/>
<path d="M80,508 q3,-4 6,0 q3,-4 6,0 q3,-4 6,0M129,521h12M129,524h12M154,521h12M154,524h12M129,538h12l-6,5z" stroke-width="1.2"/>
<g class="s"><text x="50" y="510">+1.5VS</text><text x="78" y="514">L25</text><text x="66" y="519">MBK1608121YZF_0603</text><text x="121" y="519">C1520</text><text x="146" y="519">C1521</text><text x="115" y="529">0.1U_0402_16V4Z</text><text x="140" y="538">0.022U_0402_16V7K</text></g>
<text class="m" x="172" y="519">Also power for internal</text><text class="m" x="172" y="527">Thermal Sensor</text>
<!-- QDAC -->
<text class="m" x="105" y="565">VCCD_QDAC: 48.363mA</text><text class="m" x="105" y="572">(0.1UF*1, 0.01UF*1)</text><text class="s" x="177" y="568">+1.5VS_QDAC</text>
<line x1="60" y1="580" x2="190" y2="580"/><line x1="135" y1="580" x2="135" y2="595"/><line x1="160" y1="580" x2="160" y2="595"/><line x1="190" y1="570" x2="190" y2="600"/>
<path d="M80,580 l3,-3 3,6 3,-6 3,6 3,-3M129,594h12M129,597h12M154,594h12M154,597h12 M190,587 l3,2 -6,3 6,3 -6,3 3,2" stroke-width="1.2"/>
<rect class="d" x="180" y="584" width="45" height="40"/>
<g class="s"><text x="47" y="582">+1.5VS</text><text x="80" y="586">R1190</text><text x="78" y="591">100_0603_1%</text><text x="121" y="593">C1524</text><text x="146" y="593">C1525</text><text x="115" y="602">0.1U_0402_16V4Z</text><text x="195" y="596">R1195</text><text x="195" y="601">0_0603_5%</text></g>
<text class="m" x="60" y="595">180Ohm@100MHz</text>
<!-- PEG PLL bottom -->
<text class="m" x="310" y="520">VCCD_PEG_PLL: 50mA</text><text class="m" x="310" y="527">(0.1UF*1)</text>
<text class="s" x="297" y="536">+1.8VS</text><line x1="310" y1="534" x2="400" y2="534"/><line x1="400" y1="489" x2="400" y2="534"/>
<path d="M318,534 l3,-3 3,6 3,-6 3,6 3,-3"/>
<g class="s"><text x="317" y="542">R1191</text><text x="317" y="547">0_0603_5%</text><text x="318" y="553">GND</text><text x="380" y="532">+1.8V_LVDS</text></g>
<line x1="405" y1="507" x2="405" y2="580"/><line x1="375" y1="536" x2="405" y2="536"/>
<line x1="395" y1="536" x2="395" y2="550"/><line x1="413" y1="536" x2="413" y2="550"/>
<path d="M389,550h12M389,553h12M407,550h12M407,553h12M407,570h12l-6,5z" stroke-width="1.2"/>
<rect class="d" x="358" y="540" width="25" height="35"/>
<g class="s"><text x="377" y="549">C1522</text><text x="362" y="555">10U_0805_6.3V6M</text><text x="418" y="549">C1523</text><text x="408" y="560">1U_0402_6.3V6K</text><text x="360" y="549">R1182</text><text x="360" y="554">0_0402_5%</text><text x="369" y="572">GND</text></g>
<text class="m" x="400" y="579">VCCD_LVDS: 60.31mA</text><text class="m" x="400" y="587">(1UP*1)</text>
<!-- diode box -->
<rect class="d" x="592" y="558" width="130" height="30"/>
<text class="s" x="606" y="575">+1.05VSD</text><line x1="627" y1="573" x2="640" y2="573"/>
<path d="M640,568v10l8,-5z M648,567v12" stroke-width="1.2"/><line x1="648" y1="573" x2="665" y2="573"/>
<path d="M665,573 l3,-3 3,6 3,-6 3,6 3,-3"/><line x1="683" y1="573" x2="695" y2="573"/>
<g class="s"><text x="637" y="567">D8</text><text x="682" y="566">R1194</text><text x="697" y="575">+3VS</text><text x="676" y="583">10_0603_5%</text><text x="626" y="587">CH501H-40PT_SOD323-2</text></g>

<!-- Title block -->
<rect x="363" y="596" width="483" height="41"/>
<line x1="363" y1="606" x2="664" y2="606"/><line x1="363" y1="614" x2="846" y2="614"/><line x1="664" y1="596" x2="664" y2="637"/>
<line x1="423" y1="596" x2="423" y2="614"/><line x1="510" y1="606" x2="510" y2="614"/><line x1="568" y1="606" x2="568" y2="614"/>
<line x1="664" y1="606" x2="846" y2="606"/><line x1="664" y1="619" x2="846" y2="619"/><line x1="664" y1="632" x2="846" y2="632"/><line x1="820" y1="619" x2="820" y2="632"/>
<line x1="340" y1="637" x2="846" y2="637"/><line x1="340" y1="637" x2="340" y2="643"/><line x1="340" y1="643" x2="846" y2="643"/>
<g class="s"><text x="367" y="603">Security Classification</text><text x="377" y="612">Issued Date</text><text x="477" y="610">2006/03/28</text><text x="519" y="612">Deciphered Date</text><text x="580" y="610">2006/09/20</text><text x="667" y="612">Title</text><text x="668" y="624">Custom</text><text x="680" y="624">Document Number</text><text x="823" y="624">Rev</text><text x="825" y="630">C</text><text x="667" y="636">Date:</text><text x="690" y="636">Thursday, October 26, 2006</text><text x="762" y="636">Sheet</text><text x="790" y="636">12</text><text x="806" y="636">of</text><text x="822" y="636">52</text></g>
<text class="m" x="483" y="604">Compal Secret Data</text>
<text x="705" y="604" style="font-size:9.5px;font-weight:bold">Compal Electronics, Inc.</text>
<text x="705" y="617" style="font-size:9.5px">SCHEMATIC,A4491</text>
<text x="680" y="631" style="font-size:9px">401597</text>
<g style="font-size:3.6px;font-weight:bold"><text x="366" y="620">THIS SHEET OF ENGINEERING DRAWING IS THE PROPRIETARY PROPERTY OF COMPAL ELECTRONICS, INC. AND CONTAINS CONFIDENTIAL</text><text x="366" y="624">AND TRADE SECRET INFORMATION. THIS SHEET MAY NOT BE TRANSFERED FROM THE CUSTODY OF THE COMPETENT DIVISION OF R&amp;D</text><text x="366" y="628">DEPARTMENT EXCEPT AS AUTHORIZED BY COMPAL ELECTRONICS, INC. NEITHER THIS SHEET NOR THE INFORMATION IT CONTAINS</text><text x="366" y="632">MAY BE USED BY OR DISCLOSED TO ANY THIRD PARTY WITHOUT PRIOR WRITTEN CONSENT OF COMPAL ELECTRONICS, INC.</text></g>
</svg>
</body></html>
